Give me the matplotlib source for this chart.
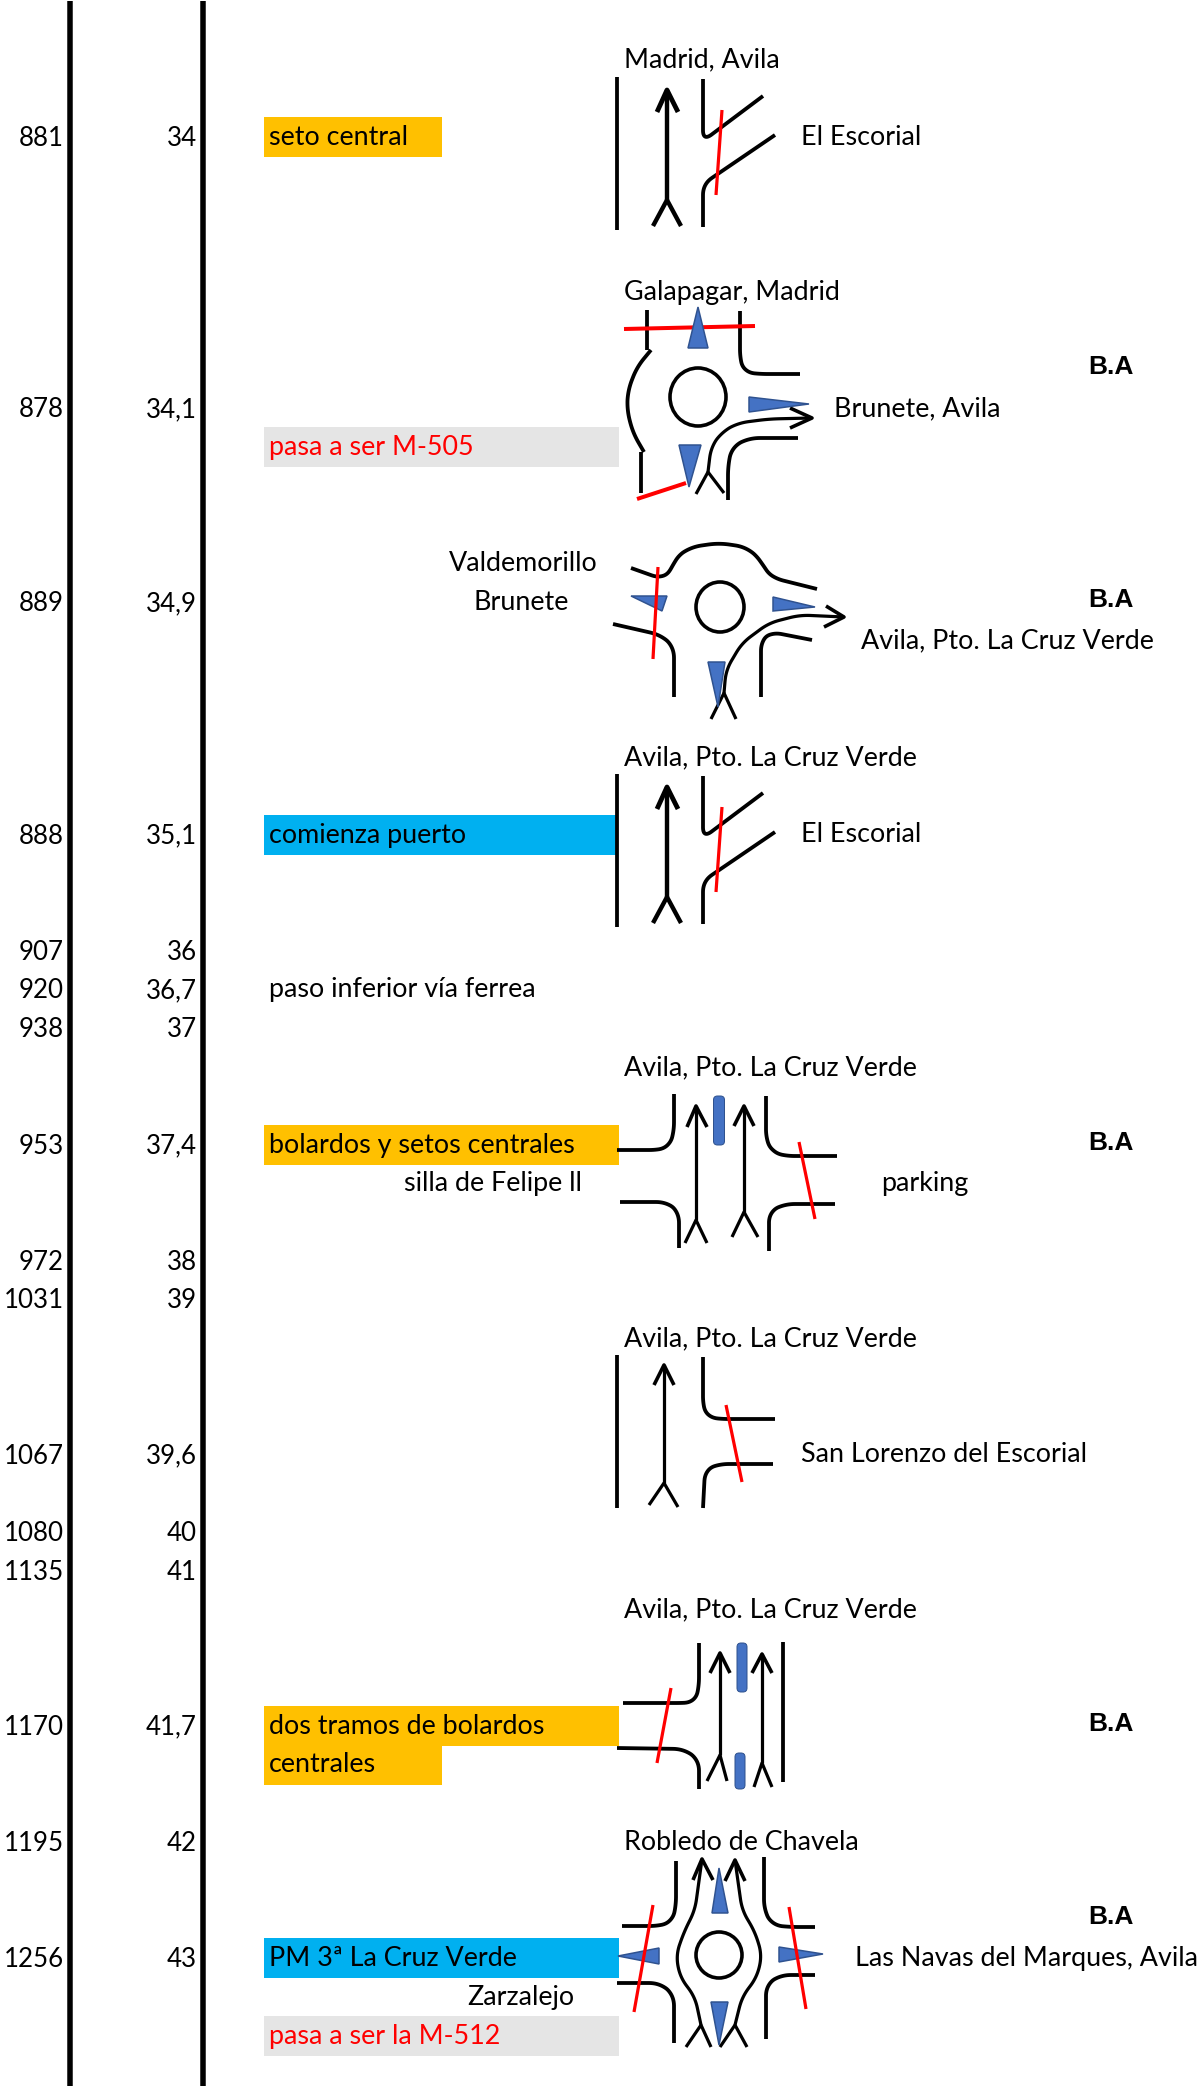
import numpy as np
import matplotlib
matplotlib.use('Agg')
import matplotlib.pyplot as plt
from matplotlib.patches import Ellipse, FancyBboxPatch, Polygon, Rectangle

# ================= TABLE DATA ================= #
altitude = [881, 878, 889, 888, 907, 920, 938, 953, 972, 1031, 1067, 1080, 1135, 1170, 1195, 1256]
km = ['34', '34,1', '34,9', '35,1', '36', '36,7', '37', '37,4', '38', '39', '39,6', '40', '41', '41,7', '42', '43']
km_rows = [0, 7, 12, 18, 21, 22, 23, 26, 29, 30, 34, 36, 37, 41, 44, 47]

note_texts = ['seto central', 'pasa a ser M-505', 'comienza puerto', 'paso inferior vía ferrea',
              'bolardos y setos centrales', 'dos tramos de bolardos', 'centrales',
              'PM 3ª La Cruz Verde', 'pasa a ser la M-512']
note_rows = [0, 8, 18, 22, 26, 41, 42, 47, 49]
note_fill = ['#FFC000', '#E5E5E5', '#00B0F0', None, '#FFC000', '#FFC000', '#FFC000', '#00B0F0', '#E5E5E5']
note_color = ['black', 'red', 'black', 'black', 'black', 'black', 'black', 'black', 'red']
note_right = [442, 619, 617, None, 619, 619, 442, 619, 619]

place_texts = ['Madrid, Avila', 'El Escorial', 'Galapagar, Madrid', 'Brunete, Avila',
               'Avila, Pto. La Cruz Verde', 'Avila, Pto. La Cruz Verde', 'El Escorial',
               'Avila, Pto. La Cruz Verde', 'parking', 'Avila, Pto. La Cruz Verde',
               'San Lorenzo del Escorial', 'Avila, Pto. La Cruz Verde', 'Robledo de Chavela',
               'Las Navas del Marques, Avila']
place_rows = [-2, 0, 4, 7, 13, 16, 18, 24, 27, 31, 34, 38, 44, 47]
place_x = [624, 801, 624, 834, 861, 624, 801, 624, 881, 624, 801, 624, 624, 855]

center_texts = ['Valdemorillo', 'Brunete', 'silla de Felipe ll', 'Zarzalejo']
center_rows = [11, 12, 27, 48]
center_x = [523, 521, 493, 521]

ba_rows = [6, 12, 26, 41, 46]

# ================= ROAD SKETCHES (pixels) ================= #
junction_a = {
    'roads': [[(620, 77), (620, 230)],
              [(706, 79), (706, 141), (766, 96)],
              [(706, 227), (706, 184), (778, 135)]],
    'heavy': [[(670, 200), (670, 90), (660, 112), (681, 112), (656, 226), (684, 226)]],
    'red': [[(725, 110), (719, 195)]],
}

roundabout_b = {
    'roads': [[(650, 310), (650, 350)],
              [(654, 350), (640, 367), (631, 390), (630, 410), (636, 433), (647, 452)],
              [(644, 452), (644, 493)],
              [(743, 311), (743, 360), (747, 372), (760, 374), (803, 374)],
              [(801, 438), (752, 438), (735, 447), (731, 465), (731, 500)]],
    'circles': [(701, 397, 28, 29)],
    'red': [[(627, 329), (758, 326)], [(640, 499), (689, 483)]],
    'red_first': True,
    'tris': [[(701, 307), (691, 348), (711, 348)],
             [(812, 404), (752, 397), (752, 412)],
             [(692, 487), (682, 445), (704, 445)]],
    'arrows': [[(711, 472), (714, 447), (725, 432), (741, 423), (772, 419), (815, 418),
                (793, 408), (793, 428), (699, 494), (727, 493)]],
}

roundabout_c = {
    'roads': [[(634, 568), (665, 579), (675, 570), (678, 558), (694, 547), (722, 543), (749, 547),
               (764, 560), (768, 570), (776, 578), (820, 589)],
              [(616, 624), (664, 635), (677, 647), (677, 697)],
              [(815, 640), (774, 632), (764, 640), (764, 697)]],
    'circles': [(723, 607, 24, 25)],
    'tris': [[(634, 596), (670, 596), (665, 611)],
             [(818, 607), (776, 597), (776, 611)],
             [(711, 662), (728, 662), (721, 707)]],
    'red': [[(661, 567), (656, 659)]],
    'arrows': [[(727, 693), (729, 670), (745, 643), (772, 623), (803, 615), (847, 617),
                (829, 606), (827, 627), (714, 719), (739, 719)]],
}

junction_e = {
    'roads': [[(677, 1094), (677, 1133), (672, 1147), (663, 1150), (620, 1150)],
              [(623, 1202), (670, 1202), (682, 1212), (682, 1248)],
              [(769, 1096), (769, 1140), (775, 1152), (787, 1156), (840, 1156)],
              [(838, 1204), (787, 1204), (772, 1212), (772, 1251)]],
    'pills': [(722, 1096, 1145, 11)],
    'arrows': [[(699, 1220), (699, 1106), (690, 1127), (710, 1127), (688, 1243), (710, 1243)],
               [(747, 1212), (747, 1106), (737, 1126), (757, 1126), (735, 1237), (761, 1237)]],
    'red': [[(802, 1142), (818, 1219)]],
}

junction_f = {
    'roads': [[(620, 1355), (620, 1508)],
              [(706, 1357), (706, 1407), (710, 1417), (721, 1419), (778, 1419)],
              [(776, 1464), (721, 1464), (708, 1470), (706, 1508)]],
    'arrows': [[(667, 1483), (667, 1365), (657, 1385), (677, 1385), (652, 1505), (681, 1507)]],
    'red': [[(729, 1405), (745, 1482)]],
}

junction_g = {
    'roads': [[(702, 1643), (702, 1688), (698, 1702), (690, 1703), (626, 1703)],
              [(620, 1748), (687, 1749), (702, 1760), (702, 1789)],
              [(786, 1642), (786, 1782)]],
    'pills': [(745, 1643, 1692, 10), (743, 1753, 1789, 10)],
    'arrows': [[(723, 1755), (723, 1653), (713, 1673), (733, 1673), (710, 1781), (730, 1781)],
               [(765, 1763), (765, 1654), (755, 1673), (775, 1673), (757, 1787), (775, 1787)]],
    'red': [[(674, 1688), (660, 1763)]],
}

roundabout_h = {
    'roads': [[(679, 1861), (679, 1907), (675, 1922), (663, 1926), (625, 1926)],
              [(767, 1857), (767, 1910), (775, 1925), (791, 1927), (818, 1927)],
              [(620, 1983), (663, 1983), (677, 1995), (677, 2043)],
              [(818, 1975), (783, 1975), (769, 1985), (769, 2039)]],
    'circles': [(722, 1955, 23, 23)],
    'tris': [[(722, 1868), (715, 1913), (731, 1913)],
             [(722, 2045), (714, 2002), (731, 2002)],
             [(621, 1956), (662, 1948), (662, 1964)],
             [(826, 1954), (782, 1947), (782, 1962)]],
    'arrows': [[(704, 2025), (698, 1997), (683, 1977), (679, 1955), (687, 1932), (698, 1910), (705, 1859),
                (696, 1880), (716, 1880), (689, 2047), (714, 2047)],
               [(738, 2025), (745, 1997), (760, 1977), (765, 1955), (758, 1932), (745, 1910), (738, 1860),
                (728, 1881), (748, 1881), (723, 2047), (750, 2047)]],
    'red': [[(656, 1905), (637, 2012)], [(792, 1907), (809, 2009)]],
}

sketches = [junction_a, roundabout_b, roundabout_c, junction_e, junction_f, junction_g, roundabout_h]

# same junction drawn again further down
junction_d = {k: [[(x, y + 697) for x, y in line] for line in v] for k, v in junction_a.items()}
sketches.insert(3, junction_d)

ROW_0 = 137
ROW_H = 38.75
DX = -3  # sketches were read slightly too far right
FONT = 'Lato'
SIZE = 19.4
NUM_SIZE = 18.6


def row_y(row):
    return ROW_0 + row * ROW_H


def px(width):
    return width * 0.72


def smooth(points):
    # densify the polyline and round the corners with a small moving average
    pts = np.array(points, dtype=float)
    if len(pts) < 3:
        return pts
    seg = np.r_[0, np.cumsum(np.hypot(*np.diff(pts, axis=0).T))]
    t = np.arange(0, seg[-1], 2.0)
    x = np.interp(t, seg, pts[:, 0])
    y = np.interp(t, seg, pts[:, 1])
    n = 11
    kernel = np.ones(n) / n
    x = np.convolve(np.pad(x, n // 2, mode='edge'), kernel, mode='valid')
    y = np.convolve(np.pad(y, n // 2, mode='edge'), kernel, mode='valid')
    return np.c_[np.r_[pts[0, 0], x, pts[-1, 0]], np.r_[pts[0, 1], y, pts[-1, 1]]]


def stroke(ax, points, width=3.8, color='black', z=3, cap='butt'):
    xy = np.array(points)
    ax.plot(xy[:, 0] + DX, xy[:, 1], color=color, lw=px(width), solid_capstyle=cap,
            solid_joinstyle='round', zorder=z)


def draw_arrow(ax, spec, width=3.2):
    # shaft points, then two barbs, then two tail feathers
    shaft = spec[:-4]
    stroke(ax, smooth(shaft), width)
    tip = shaft[-1]
    stroke(ax, [spec[-4], tip, spec[-3]], width + 0.4)
    stroke(ax, [spec[-2], shaft[0], spec[-1]], width)


def draw_sketch(ax, sk):
    for line in sk.get('roads', []):
        stroke(ax, smooth(line))
    for x, y, rx, ry in sk.get('circles', []):
        ax.add_patch(Ellipse((x + DX, y), 2 * rx, 2 * ry, fc='none', ec='black', lw=px(3.6), zorder=3))
    for x, y0, y1, w in sk.get('pills', []):
        ax.add_patch(FancyBboxPatch((x + DX - w / 2 + 3, y0 + 3), w - 6, y1 - y0 - 6,
                                    boxstyle='round,pad=3,rounding_size=4',
                                    fc='#4472C4', ec='#2F528F', lw=px(1), zorder=4))
    if sk.get('red_first'):
        for line in sk['red']:
            stroke(ax, line, 4.0, 'red', 3.5)
    for tri in sk.get('tris', []):
        shifted = [(x + DX, y) for x, y in tri]
        ax.add_patch(Polygon(shifted, closed=True, fc='#4472C4', ec='#2F528F', lw=px(1.5), zorder=4))
    for spec in sk.get('arrows', []):
        draw_arrow(ax, spec)
    for spec in sk.get('heavy', []):
        draw_arrow(ax, spec, 4.4)
    if not sk.get('red_first'):
        for line in sk['red']:
            stroke(ax, line, 3.2, 'red', 5)


# ================= FIGURE ================= #
fig = plt.figure(figsize=(12.04, 20.86), dpi=100)
ax = fig.add_axes([0, 0, 1, 1])
ax.set_xlim(0, 1204)
ax.set_ylim(2086, 0)
ax.axis('off')

# column rules
for x in [70, 203]:
    ax.plot([x, x], [1, 2086], color='black', lw=px(5.5), solid_capstyle='butt', zorder=2)

# altitude and km columns
for alt, k, r in zip(altitude, km, km_rows):
    ax.text(64, row_y(r) + 9, str(alt), ha='right', va='baseline', family=FONT, fontsize=NUM_SIZE)
    ax.text(197, row_y(r) + 9, k, ha='right', va='baseline', family=FONT, fontsize=NUM_SIZE)

# notes, some of them on coloured cells
for text, r, fill, col, right in zip(note_texts, note_rows, note_fill, note_color, note_right):
    if fill:
        ax.add_patch(Rectangle((264, row_y(r) - 20), right - 264, 40, fc=fill, ec='none', zorder=1))
    ax.text(269, row_y(r) + 8, text, color=col, ha='left', va='baseline', family=FONT, fontsize=SIZE, zorder=6)

for text, r, x in zip(place_texts, place_rows, place_x):
    ax.text(x, row_y(r) + 8, text, ha='left', va='baseline', family=FONT, fontsize=SIZE, zorder=6)

for text, r, x in zip(center_texts, center_rows, center_x):
    ax.text(x, row_y(r) + 8, text, ha='center', va='baseline', family=FONT, fontsize=SIZE, zorder=6)

for r in ba_rows:
    ax.text(1088, row_y(r) + 5, 'B.A', ha='left', va='baseline', family='Liberation Sans',
            fontweight='bold', fontsize=19, zorder=6)

for sk in sketches:
    draw_sketch(ax, sk)

fig.savefig('out.png', dpi=100, facecolor='white')
